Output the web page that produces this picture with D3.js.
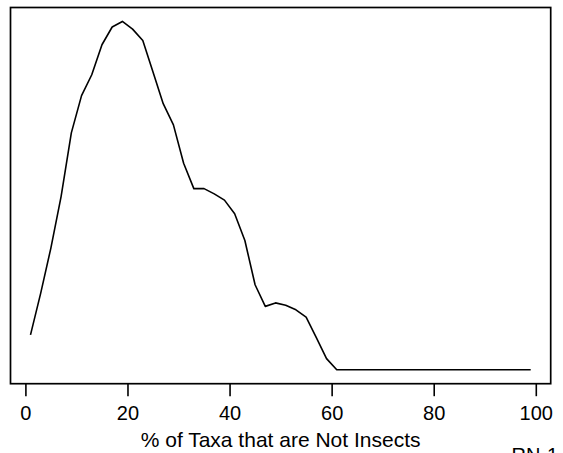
<!DOCTYPE html>
<html>
<head>
<meta charset="utf-8">
<script src="https://cdn.jsdelivr.net/npm/d3@7"></script>
<style>
  html, body { margin: 0; padding: 0; background: #fff; }
  svg { display: block; }
  text { font-family: "Liberation Sans", Arial, sans-serif; fill: #000; }
</style>
</head>
<body>
<svg id="chart" width="563" height="453"></svg>
<script>
// Data: % of taxa that are not insects (x) vs. relative density (y, peak = 100)
const pctNotInsects = [1,3,5,7,9,11,13,15,17,19,21,23,25,27,29,31,33,35,37,39,41,43,45,47,49,
  51,53,55,57,59,61,63,65,67,69,71,73,75,77,79,81,83,85,87,89,91,93,95,97,99];
const density = [10.0,22.0,35.0,49.8,68.0,78.7,84.7,93.3,98.4,100,97.8,94.5,85.5,76.4,70.3,
  59.3,52.0,52.0,50.5,48.7,44.8,37.1,24.4,18.2,19.2,18.5,17.2,15.1,9.2,3.2,
  0,0,0,0,0,0,0,0,0,0,0,0,0,0,0,0,0,0,0,0];
const xTicks = [0,20,40,60,80,100];
const xLabel = "% of Taxa that are Not Insects";
const cornerLabel = "RN-1";

const svg = d3.select("#chart");
const box = {left: 10.5, right: 550.7, top: 7.5, bottom: 383.7};

// R-style 4% axis padding
const xMin = d3.min(pctNotInsects), xMax = d3.max(pctNotInsects);
const xPad = (xMax - xMin) * 0.04;
const x = d3.scaleLinear().domain([xMin - xPad, xMax + xPad]).range([box.left, box.right]);
const yMin = d3.min(density), yMax = d3.max(density);
const yPad = (yMax - yMin) * 0.04;
const y = d3.scaleLinear().domain([yMin - yPad, yMax + yPad]).range([box.bottom, box.top]);

const pts = pctNotInsects.map((v, i) => [v, density[i]]);

svg.append("path")
  .datum(pts)
  .attr("fill", "none")
  .attr("stroke", "#000")
  .attr("stroke-width", 1.6)
  .attr("stroke-linejoin", "round")
  .attr("d", d3.line().x(d => x(d[0])).y(d => y(d[1])));

// Plot box
svg.append("rect")
  .attr("x", box.left).attr("y", box.top)
  .attr("width", box.right - box.left).attr("height", box.bottom - box.top)
  .attr("fill", "none").attr("stroke", "#000").attr("stroke-width", 1.7);

// X axis
const axis = d3.axisBottom(x).tickValues(xTicks).tickSize(12.5).tickPadding(6).tickSizeOuter(0);
const g = svg.append("g").attr("transform", `translate(0,${box.bottom})`).call(axis);
g.select(".domain").remove();
g.selectAll(".tick line").attr("stroke", "#000").attr("stroke-width", 1.6);
g.selectAll(".tick text")
  .attr("font-size", 20)
  .attr("font-family", "Liberation Sans, Arial, sans-serif")
  .attr("fill", "#000")
  .attr("dy", null)
  .attr("y", 420.5 - box.bottom);

svg.append("text")
  .attr("x", x(50)).attr("y", 446.5)
  .attr("text-anchor", "middle")
  .attr("font-size", 21)
  .text(xLabel);

svg.append("text")
  .attr("x", 511.5).attr("y", 462)
  .attr("font-size", 20)
  .text(cornerLabel);
</script>
</body>
</html>
